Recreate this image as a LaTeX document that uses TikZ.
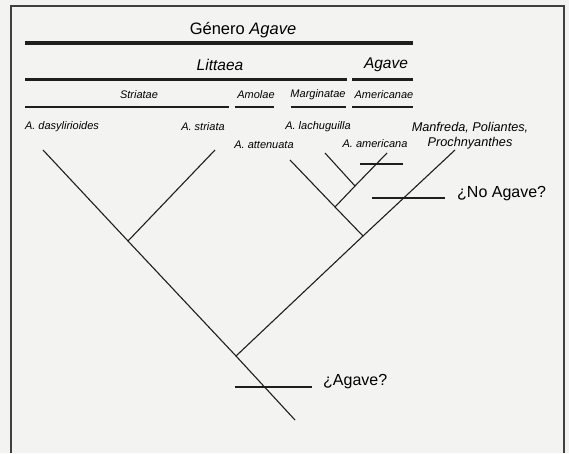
\documentclass[tikz,border=0pt]{standalone}
\usepackage{fontspec}
\setmainfont{Liberation Sans}
\usepackage{tikz}
\definecolor{paper}{RGB}{243,243,241}
\definecolor{ink}{RGB}{30,30,30}

\begin{document}
\begin{tikzpicture}[x=1pt,y=-1pt,
    branch/.style={ink,line width=1.1pt},
    rank/.style={ink,line width=#1},
    taxon/.style={inner sep=0pt,font=\fontsize{15.5}{17}\selectfont\itshape},
    section/.style={inner sep=0pt,font=\fontsize{11}{12}\selectfont\itshape},
    species/.style={inner sep=0pt,font=\fontsize{11}{12}\selectfont\itshape},
    query/.style={inner sep=0pt,anchor=west,font=\fontsize{16}{18}\selectfont}]
  \fill[paper] (0,0) rectangle (569,453);
  \useasboundingbox (0,0) rectangle (569,453);
  \draw[ink!85,line width=1.4pt] (11,453) -- (11,6) -- (564,6) -- (564,453);

  \node[inner sep=0pt,font=\fontsize{16.5}{18}\selectfont] (genero) at (243,30) {Género \textit{Agave}};
  \coordinate (g1) at (25,43);  \coordinate (g2) at (413,43);
  \draw[rank=4pt] (g1) -- (g2);

  \node[taxon] (littaea) at (220,65) {Littaea};
  \node[taxon] (agave) at (386,65) {Agave};
  \coordinate (l1) at (25,79);  \coordinate (l2) at (347,79);
  \coordinate (a1) at (352,79); \coordinate (a2) at (413,79);
  \draw[rank=3pt] (l1) -- (l2);
  \draw[rank=3pt] (a1) -- (a2);

  \node[section] (striatae) at (139,95) {Striatae};
  \node[section] (amolae) at (256,95) {Amolae};
  \node[section] (marginatae) at (318,95) {Marginatae};
  \node[section] (americanae) at (384,95) {Americanae};
  \coordinate (s1) at (25,107);  \coordinate (s2) at (229,107);
  \coordinate (m1) at (235,107); \coordinate (m2) at (274,107);
  \coordinate (n1) at (291,107); \coordinate (n2) at (346,107);
  \coordinate (e1) at (352,107); \coordinate (e2) at (413,107);
  \draw[rank=1.4pt] (s1) -- (s2);
  \draw[rank=1.4pt] (m1) -- (m2);
  \draw[rank=1.4pt] (n1) -- (n2);
  \draw[rank=1.4pt] (e1) -- (e2);

  \node[species] (dasy) at (62,127) {A. dasylirioides};
  \node[species] (striata) at (203,127) {A. striata};
  \node[species] (attenuata) at (264,145) {A. attenuata};
  \node[species] (lechuguilla) at (318,127) {A. lachuguilla};
  \node[species] (americana) at (375,144) {A. americana};
  \node[inner sep=0pt,align=center,font=\fontsize{12.7}{15}\selectfont\itshape] (manfreda) at (470,135.5) {Manfreda, Poliantes,\\Prochnyanthes};

  \coordinate (tD) at (43,150);
  \coordinate (tS) at (215,150);
  \coordinate (tAt) at (290,160);
  \coordinate (tL) at (325,153);
  \coordinate (tAm) at (387,153);
  \coordinate (tM) at (455,150);
  \coordinate (k1) at (128,241);
  \coordinate (k2) at (236,356);
  \coordinate (k3) at (363,236);
  \coordinate (k4) at (335,207);
  \coordinate (k5) at (355,186);
  \coordinate (root) at (295,420);
  \draw[branch] (tD) -- (k1) -- (k2) -- (root);
  \draw[branch] (tS) -- (k1);
  \draw[branch] (tM) -- (k3) -- (k2);
  \draw[branch] (tAt) -- (k4) -- (k3);
  \draw[branch] (tAm) -- (k5) -- (k4);
  \draw[branch] (tL) -- (k5);

  \coordinate (c1) at (360,164); \coordinate (c2) at (403,164);
  \draw[rank=1.6pt] (c1) -- (c2);
  \coordinate (q1) at (372,198); \coordinate (q2) at (445,198);
  \draw[rank=1.6pt] (q1) -- (q2);
  \node[query] (noagave) at (457,194) {¿No Agave?};
  \coordinate (p1) at (235,387); \coordinate (p2) at (312,387);
  \draw[rank=1.6pt] (p1) -- (p2);
  \node[query] (siagave) at (323,382) {¿Agave?};
\end{tikzpicture}
\end{document}
